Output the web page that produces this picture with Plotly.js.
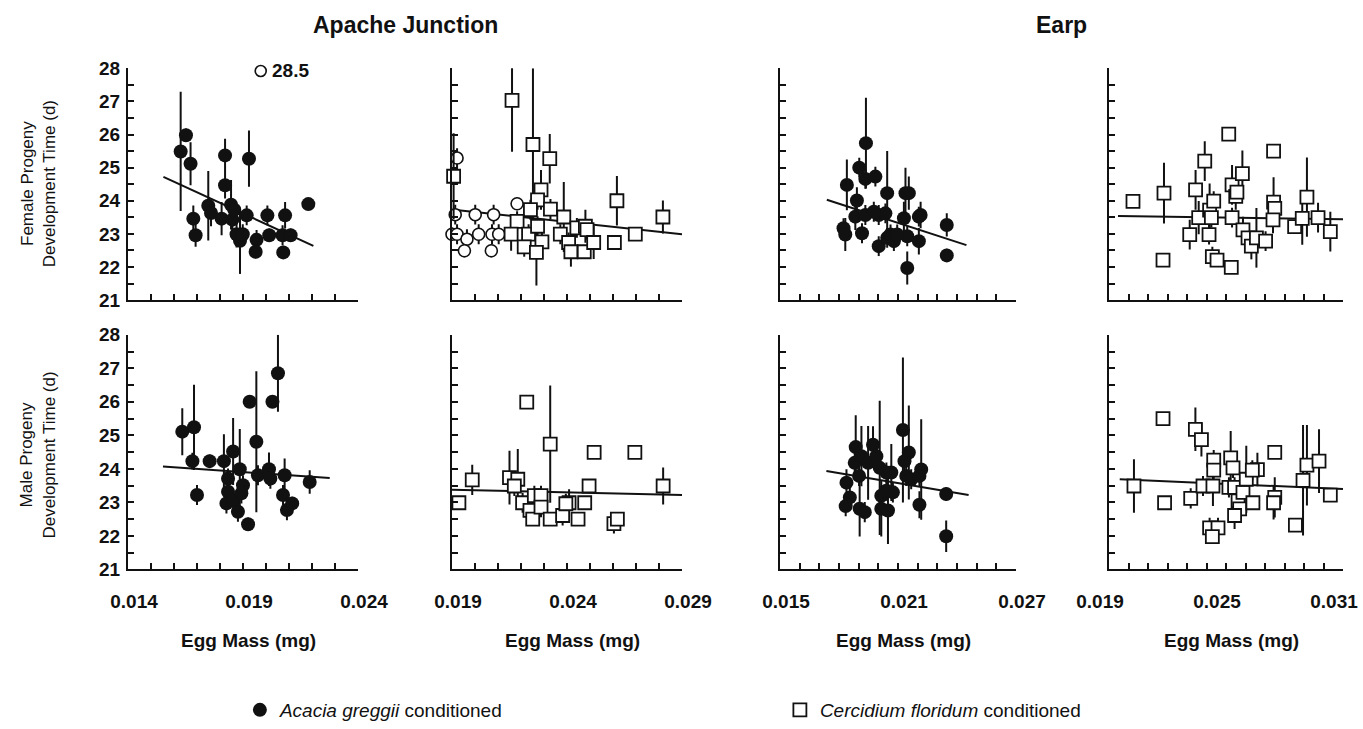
<!DOCTYPE html>
<html>
<head>
<meta charset="utf-8">
<script src="https://cdn.plot.ly/plotly-3.0.1.min.js"></script>
<style>html,body{margin:0;padding:0;background:#fff;}#chart{width:1363px;height:729px;}</style>
</head>
<body>
<div id="chart"></div>
<script>
// ---------- DATA ----------
const siteTitles = ["Apache Junction", "Earp"];
const rowTitles = ["Female Progeny<br>Development Time (d)", "Male Progeny<br>Development Time (d)"];
const xAxisTitle = "Egg Mass (mg)";
const legendNames = ["<i>Acacia greggii</i> conditioned", "<i>Cercidium floridum</i> conditioned"];
const xTickLabels = [
  ["0.014", "0.019", "0.024"],
  ["0.019", "0.024", "0.029"],
  ["0.015", "0.021", "0.027"],
  ["0.019", "0.025", "0.031"]
];
const yTickLabels = ["21", "22", "23", "24", "25", "26", "27", "28"];

// Top row: female; Apache Junction, Acacia (filled circles)
const p1x = [0.01629,0.01652,0.01672,0.01684,0.01694,0.01749,0.01761,0.01807,0.01822,0.01822,0.01848,0.01854,0.01862,0.01872,0.01887,0.01899,0.01916,0.01926,0.01959,0.01955,0.02006,0.02014,0.02072,0.02083,0.02075,0.02107,0.02184];
const p1y = [25.49,25.98,25.12,23.46,22.96,23.85,23.63,23.46,25.37,24.47,23.88,23.43,23.73,22.99,22.79,22.99,23.56,25.27,22.82,22.46,23.56,22.96,22.96,23.56,22.44,22.96,23.90];
const p1e = [1.8,0.2,0.65,0.4,0.35,1.05,0.4,0.5,0.5,0.4,0.75,0.4,0.3,0.4,1.0,0.3,0.3,0.85,0.3,0.2,0.3,0.2,0.3,0.4,0.2,0.2,0.1];
const p1fitX = [0.01554, 0.02206];
const p1fitY = [24.72, 22.64];
const outlierX = [0.01977];
const outlierY = [27.92];
const outlierLabel = "28.5";

// Top row: Apache Junction, Cercidium (open squares) plus open circles
const p2cx = [0.01922,0.01914,0.01900,0.01922,0.01965,0.01954,0.02001,0.02016,0.02081,0.02074,0.02103,0.02071,0.02183];
const p2cy = [25.29,23.58,22.99,22.99,22.84,22.49,23.58,22.99,23.58,22.99,22.99,22.49,23.91];
const p2ce = [0.3,0.3,0.2,0.3,0.3,0.2,0.3,0.3,0.3,0.3,0.3,0.2,0.2];
const p2x = [0.01907,0.02161,0.02252,0.02325,0.02287,0.02272,0.02241,0.02328,0.02183,0.02157,0.02233,0.02214,0.02272,0.02291,0.02267,0.02386,0.02371,0.02407,0.02417,0.02443,0.02480,0.02487,0.02475,0.02516,0.02606,0.02617,0.02697,0.02817];
const p2y = [24.74,27.03,25.70,25.27,24.33,24.03,23.73,23.75,23.38,22.99,22.99,22.61,23.23,22.76,22.44,23.51,22.99,22.74,22.46,23.18,23.23,23.13,22.46,22.74,22.74,24.00,22.99,23.51];
const p2e = [1.3,1.55,2.3,0.75,0.6,0.3,0.3,0.3,0.3,0.5,0.3,0.3,0.3,0.3,1.0,1.06,0.3,0.3,0.45,0.3,0.5,0.3,0.2,0.5,0.2,0.75,0.2,0.5];
const p2fitX = [0.01907, 0.0290];
const p2fitY = [23.73, 22.99];

// Top row: Earp, Acacia
const p3x = [0.01937,0.01903,0.01934,0.01985,0.01840,0.02045,0.02138,0.02155,0.01891,0.01883,0.01934,0.02002,0.02036,0.02130,0.02215,0.02206,0.01823,0.01832,0.01917,0.02002,0.02045,0.02079,0.02147,0.02206,0.02147,0.02348,0.02348,0.01977,0.02062,0.02096];
const p3y = [25.74,25.00,24.66,24.73,24.48,24.23,24.23,24.23,24.01,23.52,23.57,23.57,23.62,23.47,23.57,23.52,23.17,22.98,23.02,22.63,22.88,22.78,22.93,22.78,21.97,23.27,22.35,23.67,22.98,22.98];
const p3e = [1.37,0.3,0.3,0.3,0.77,1.27,0.77,0.5,0.4,0.4,0.3,0.3,0.3,0.5,0.4,0.3,0.3,0.5,0.3,0.3,0.3,0.3,0.3,0.4,0.5,0.35,0.2,0.3,0.3,0.3];
const p3fitX = [0.01738, 0.02448];
const p3fitY = [24.03, 22.66];

// Top row: Earp, Cercidium
const p4x = [0.02023,0.02182,0.02177,0.02314,0.02344,0.02360,0.02391,0.02413,0.02416,0.02437,0.02425,0.02430,0.02454,0.02514,0.02527,0.02531,0.02531,0.02550,0.02556,0.02584,0.02587,0.02613,0.02630,0.02656,0.02703,0.02744,0.02744,0.02750,0.02741,0.02852,0.02891,0.02915,0.02972,0.03035];
const p4y = [23.98,24.23,22.21,22.98,24.33,23.49,25.20,22.98,23.72,23.99,23.49,22.31,22.21,26.01,21.99,23.49,24.48,24.13,24.26,24.82,23.12,22.88,22.63,22.88,22.78,25.50,23.96,23.77,23.42,23.22,23.47,24.11,23.49,23.07];
const p4e = [0.1,0.92,0.15,0.45,0.6,0.5,0.6,0.3,0.8,0.3,0.3,0.3,0.2,0.1,0.1,0.3,0.6,0.4,0.3,0.7,0.4,0.4,0.4,0.9,0.3,0.1,0.75,0.3,0.4,0.2,0.8,1.2,0.45,0.6];
const p4fitX = [0.01946, 0.0310];
const p4fitY = [23.54, 23.44];

// Bottom row: male; Apache Junction, Acacia
const p5x = [0.01636,0.01687,0.01680,0.01700,0.01755,0.01817,0.01857,0.01886,0.01835,0.01835,0.01828,0.01857,0.01878,0.01900,0.01893,0.01922,0.01929,0.01958,0.01965,0.02013,0.02019,0.02028,0.02052,0.02081,0.02074,0.02091,0.02114,0.02190];
const p5y = [25.11,25.24,24.23,23.22,24.23,24.23,24.52,23.99,23.71,23.32,22.97,23.07,22.72,23.51,23.27,22.35,26.00,24.81,23.81,23.99,23.71,26.00,26.85,23.81,23.22,22.77,22.97,23.61];
const p5e = [0.7,1.27,0.25,0.3,0.2,0.8,1.0,1.2,0.3,0.3,0.3,0.3,0.3,0.3,0.3,0.2,0.15,2.1,0.3,0.5,0.3,0.15,1.15,0.5,0.3,0.3,0.2,0.35];
const p5fitX = [0.01552, 0.02277];
const p5fitY = [24.07, 23.73];

// Bottom row: Apache Junction, Cercidium
const p6x = [0.01930,0.01988,0.02150,0.02186,0.02171,0.02225,0.02207,0.02239,0.02251,0.02258,0.02287,0.02287,0.02327,0.02327,0.02381,0.02409,0.02395,0.02448,0.02477,0.02496,0.02518,0.02604,0.02619,0.02695,0.02818];
const p6y = [22.99,23.67,23.74,23.69,23.49,25.99,22.99,22.76,22.50,23.20,23.20,22.86,24.74,22.50,22.61,22.99,22.96,22.50,22.99,23.49,24.49,22.37,22.50,24.49,23.49];
const p6e = [0.1,0.45,0.8,0.9,0.3,0.1,0.3,0.3,0.2,0.3,0.3,0.3,1.75,0.2,0.3,0.4,0.3,0.2,0.2,0.2,0.1,0.3,0.2,0.1,0.55];
const p6fitX = [0.0190, 0.0290];
const p6fitY = [23.38, 23.22];

// Bottom row: Earp, Acacia
const p7x = [0.01838,0.01855,0.01834,0.01885,0.01880,0.01914,0.01902,0.01905,0.01931,0.01948,0.01973,0.01990,0.02007,0.02041,0.02066,0.02015,0.02041,0.02074,0.02015,0.02049,0.02125,0.02155,0.02133,0.02142,0.02167,0.02218,0.02209,0.02209,0.02345,0.02345];
const p7y = [23.59,23.15,22.89,24.65,24.18,24.38,23.79,22.81,22.71,24.18,24.72,24.38,24.03,23.89,23.89,23.20,23.35,23.30,22.81,22.76,25.16,24.49,24.23,23.79,23.69,23.98,23.79,22.93,23.25,21.99];
const p7e = [0.4,0.3,0.3,0.95,0.3,0.9,0.3,0.83,0.3,1.1,0.55,0.4,2.0,0.3,0.85,0.3,0.3,0.3,0.83,1.0,2.16,1.4,0.3,0.3,0.3,1.5,0.3,0.4,0.2,0.47];
const p7fitX = [0.01736, 0.02459];
const p7fitY = [23.94, 23.22];

// Bottom row: Earp, Cercidium
const p8x = [0.02028,0.02177,0.02185,0.02319,0.02343,0.02374,0.02382,0.02437,0.02437,0.02433,0.02416,0.02459,0.02430,0.02524,0.02515,0.02536,0.02544,0.02562,0.02570,0.02544,0.02587,0.02604,0.02638,0.02661,0.02635,0.02750,0.02750,0.02744,0.02856,0.02895,0.02915,0.02977,0.03035];
const p8y = [23.49,25.50,22.99,23.12,25.18,24.87,23.49,24.26,23.96,23.49,22.24,22.24,21.98,24.33,23.45,24.03,23.45,23.05,22.81,22.61,23.30,23.69,22.99,23.98,23.96,24.49,23.15,22.99,22.32,23.66,24.11,24.23,23.22];
const p8e = [0.8,0.1,0.1,0.3,0.65,0.5,0.3,0.3,0.3,0.6,0.3,0.3,0.1,0.8,0.3,0.3,0.3,0.5,0.4,0.4,0.4,1.0,0.2,0.5,0.3,0.1,0.6,0.5,0.1,1.65,1.2,0.95,0.2];
const p8fitX = [0.01955, 0.0310];
const p8fitY = [23.69, 23.40];

// ---------- LAYOUT GEOMETRY (pixels) ----------
const W = 1363, H = 729;
const FONT = "Liberation Sans, Arial, Helvetica, sans-serif";
const colPx = [[128, 358], [452, 682], [780, 1016], [1109, 1343]];
const rowPx = [[69, 303], [338, 575]];   // [top(28), bottom(21)]

const panels = [
  {x: p1x, y: p1y, e: p1e, fx: p1fitX, fy: p1fitY, kind: "acacia"},
  {x: p2x, y: p2y, e: p2e, fx: p2fitX, fy: p2fitY, kind: "cercidium"},
  {x: p3x, y: p3y, e: p3e, fx: p3fitX, fy: p3fitY, kind: "acacia"},
  {x: p4x, y: p4y, e: p4e, fx: p4fitX, fy: p4fitY, kind: "cercidium"},
  {x: p5x, y: p5y, e: p5e, fx: p5fitX, fy: p5fitY, kind: "acacia"},
  {x: p6x, y: p6y, e: p6e, fx: p6fitX, fy: p6fitY, kind: "cercidium"},
  {x: p7x, y: p7y, e: p7e, fx: p7fitX, fy: p7fitY, kind: "acacia"},
  {x: p8x, y: p8y, e: p8e, fx: p8fitX, fy: p8fitY, kind: "cercidium"}
];

function xTicks(labels) {
  const a = parseFloat(labels[0]), b = parseFloat(labels[labels.length - 1]);
  const n = Math.round((b - a) / 0.001);
  const vals = [], text = [];
  for (let i = 0; i <= n; i++) {
    const v = +(a + i * 0.001).toFixed(4);
    vals.push(v);
    const lab = labels.find(l => Math.abs(parseFloat(l) - v) < 1e-7);
    text.push(lab || "");
  }
  return {vals, text, range: [a, b]};
}
function yTicks(show) {
  const vals = [], text = [];
  for (let i = 0; i <= 14; i++) {
    const v = 21 + i * 0.5;
    vals.push(v);
    const lab = yTickLabels.find(l => parseFloat(l) === v);
    text.push(show && lab ? lab : "");
  }
  return {vals, text};
}

const traces = [];
const layout = {
  width: W, height: H,
  margin: {l: 0, r: 0, t: 0, b: 0},
  paper_bgcolor: "#fff", plot_bgcolor: "rgba(0,0,0,0)",
  font: {family: FONT, color: "#111"},
  showlegend: true,
  legend: {
    orientation: "h", x: 0.176, xanchor: "left", y: 1 - 717 / H, yanchor: "middle",
    entrywidth: 495, entrywidthmode: "pixels",
    font: {family: FONT, size: 19, color: "#111"},
    bgcolor: "rgba(0,0,0,0)", tracegroupgap: 0
  },
  annotations: [],
  shapes: []
};

panels.forEach((p, i) => {
  const k = i + 1;
  const sfx = k === 1 ? "" : String(k);
  const col = i % 4, row = Math.floor(i / 4);
  const xt = xTicks(xTickLabels[col]);
  const yt = yTicks(col === 0);
  layout["xaxis" + sfx] = {
    domain: [colPx[col][0] / W, colPx[col][1] / W],
    anchor: "y" + sfx,
    range: xt.range,
    tickmode: "array", tickvals: xt.vals, ticktext: xt.text,
    showticklabels: row === 1,
    ticks: "inside", ticklen: 6, tickwidth: 2, tickcolor: "#111",
    showline: true, linewidth: 2, linecolor: "#111",
    showgrid: false, zeroline: false,
    ticklabelstandoff: 14, ticklabelshift: col === 3 ? -9 : 6,
    ticklabeloverflow: "allow",
    tickfont: {family: FONT, size: 19, color: "#111", weight: "bold"}
  };
  layout["yaxis" + sfx] = {
    domain: [1 - rowPx[row][1] / H, 1 - rowPx[row][0] / H],
    anchor: "x" + sfx,
    range: [21, 28],
    tickmode: "array", tickvals: yt.vals, ticktext: yt.text,
    showticklabels: col === 0,
    ticks: "inside", ticklen: 6, tickwidth: 2, tickcolor: "#111",
    showline: true, linewidth: 2, linecolor: "#111",
    showgrid: false, zeroline: false,
    ticklabelstandoff: 2,
    tickfont: {family: FONT, size: 19, color: "#111", weight: "bold"}
  };
  // regression line
  traces.push({
    type: "scatter", mode: "lines", x: p.fx, y: p.fy,
    xaxis: "x" + sfx, yaxis: "y" + sfx,
    line: {color: "#111", width: 2}, showlegend: false, hoverinfo: "skip"
  });
  // open circles in Apache female Cercidium panel
  if (i === 1) {
    traces.push({
      type: "scatter", mode: "markers", x: p2cx, y: p2cy,
      xaxis: "x2", yaxis: "y2", cliponaxis: false,
      error_y: {type: "data", array: p2ce, visible: true, thickness: 2, width: 0, color: "#111"},
      marker: {symbol: "circle", size: 12, color: "#fff", line: {color: "#111", width: 1.6}},
      showlegend: false
    });
  }
  const isA = p.kind === "acacia";
  traces.push({
    type: "scatter", mode: "markers", x: p.x, y: p.y,
    xaxis: "x" + sfx, yaxis: "y" + sfx, cliponaxis: false,
    name: isA ? legendNames[0] : legendNames[1],
    showlegend: (i === 0 || i === 1),
    legendrank: isA ? 1 : 2,
    error_y: {type: "data", array: p.e, visible: true, thickness: 2, width: 0, color: "#111"},
    marker: isA
      ? {symbol: "circle", size: 14, color: "#111", line: {color: "#111", width: 0}}
      : {symbol: "square", size: 13, color: "#fff", line: {color: "#111", width: 1.8}}
  });
});

// off-scale point marker (28.5) in first panel
traces.push({
  type: "scatter", mode: "markers", x: outlierX, y: outlierY,
  xaxis: "x", yaxis: "y", cliponaxis: false, showlegend: false,
  marker: {symbol: "circle", size: 11, color: "#fff", line: {color: "#111", width: 1.6}}
});
layout.annotations.push({
  xref: "x", yref: "y", x: outlierX[0] + 0.0004, y: outlierY[0], xanchor: "left", yanchor: "middle",
  text: outlierLabel, showarrow: false, font: {family: FONT, size: 19, color: "#111", weight: "bold"}
});

// site titles
[[colPx[0][0], colPx[1][1]], [colPx[2][0], colPx[3][1]]].forEach((c, j) => {
  layout.annotations.push({
    xref: "paper", yref: "paper", x: (c[0] + c[1]) / 2 / W, y: 1 - 25 / H,
    xanchor: "center", yanchor: "middle", showarrow: false, text: siteTitles[j],
    font: {family: FONT, size: 23, color: "#111", weight: "bold"}
  });
});
// row (y axis) titles
rowTitles.forEach((t, r) => {
  layout.annotations.push({
    xref: "paper", yref: "paper", x: 38 / W, y: 1 - (r === 0 ? 186 : 460) / H,
    xanchor: "center", yanchor: "middle", showarrow: false, textangle: -90, text: t,
    font: {family: FONT, size: 17, color: "#111"}
  });
});
// x axis titles
colPx.forEach(c => {
  layout.annotations.push({
    xref: "paper", yref: "paper", x: ((c[0] + c[1]) / 2 + 5) / W, y: 1 - 647 / H,
    xanchor: "center", yanchor: "middle", showarrow: false, text: xAxisTitle,
    font: {family: FONT, size: 19, color: "#111", weight: "bold"}
  });
});

Plotly.newPlot("chart", traces, layout, {staticPlot: true, displayModeBar: false});
</script>
</body>
</html>
